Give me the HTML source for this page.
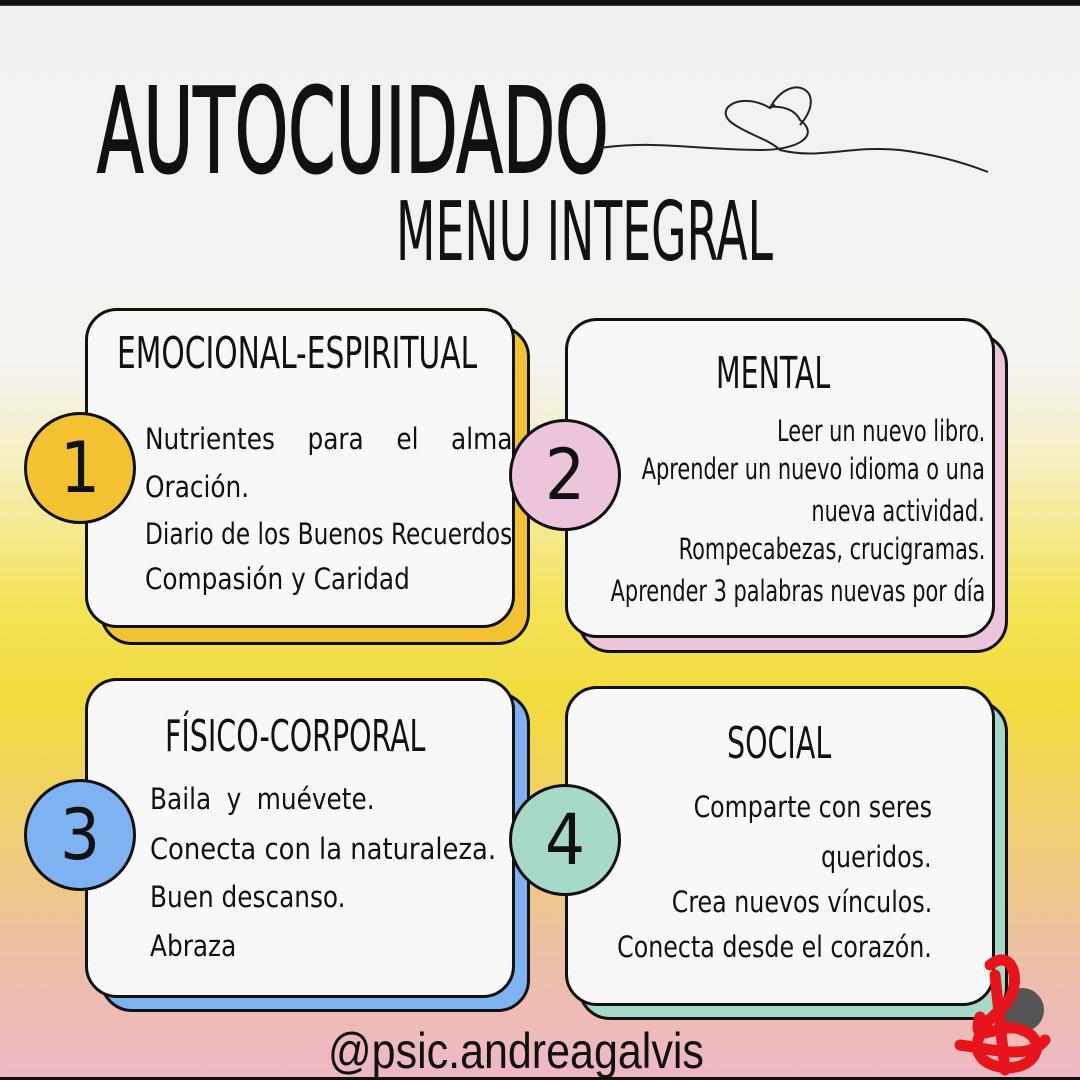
<!DOCTYPE html>
<html><head><meta charset="utf-8"><style>
*{margin:0;padding:0;box-sizing:border-box}
body{width:1080px;height:1077px;overflow:hidden;position:relative;font-family:"DejaVu Sans Condensed","Liberation Sans",sans-serif;
background:linear-gradient(180deg,#111 0,#111 6px,#f1f1f1 6px,#f3f3f0 360px,#f6f0c8 450px,#f3e35a 600px,#f2dc3c 700px,#efd070 820px,#eebfa8 960px,#eeb8c4 1077px);}
.a{position:absolute;white-space:nowrap;color:#111}
.card{position:absolute;border:3px solid #111;border-radius:32px}
.circ{position:absolute;width:112px;height:112px;border:3px solid #111;border-radius:50%;font-size:70px;display:flex;align-items:center;justify-content:center;color:#111;font-family:"DejaVu Sans Condensed",sans-serif;font-weight:300}
.t{font-size:29px;transform-origin:left center;transform:scaleX(.8)}
.w{transform:scaleX(.95)}
.r{transform-origin:right center}
.h{font-size:44px;transform:scaleX(.72);transform-origin:left center}
</style></head><body>
<div class="a" style="left:97px;top:62px;font-size:118px;transform:scaleX(.64);transform-origin:left top;-webkit-text-stroke:2px #111">AUTOCUIDADO</div>
<div class="a" style="left:396px;top:185px;font-size:82px;transform:scaleX(.62);transform-origin:left top">MENU INTEGRAL</div>
<svg class="a" style="left:0;top:0" width="1080" height="300"><path d="M600 148 C650 140,700 150,760 150 C800 150,820 135,800 120 C 790 100,760 110,775 105 L770 108 C740 90,710 110,735 125 C750 135,770 140,780 150 C820 160,850 145,900 150 C940 155,970 165,988 172" fill="none" stroke="#222" stroke-width="2"/><path d="M770 108 C790 70,830 90,800 125" fill="none" stroke="#222" stroke-width="2"/></svg>

<div class="card" style="left:100px;top:325px;width:430px;height:320px;background:#f2c233"></div>
<div class="card" style="left:85px;top:308px;width:430px;height:320px;background:#f8f8f8"></div>
<div class="card" style="left:578px;top:333px;width:430px;height:320px;background:#ecc4dc"></div>
<div class="card" style="left:565px;top:318px;width:430px;height:320px;background:#f8f8f8"></div>
<div class="card" style="left:100px;top:692px;width:430px;height:320px;background:#7fb2f0"></div>
<div class="card" style="left:85px;top:678px;width:430px;height:320px;background:#f8f8f8"></div>
<div class="card" style="left:578px;top:700px;width:430px;height:320px;background:#a6d9c8"></div>
<div class="card" style="left:565px;top:686px;width:430px;height:320px;background:#f8f8f8"></div>

<div class="circ" style="left:24px;top:412px;background:#f2c233">1</div>
<div class="circ" style="left:509px;top:419px;background:#ecc4dc">2</div>
<div class="circ" style="left:24px;top:779px;background:#7fb2f0">3</div>
<div class="circ" style="left:509px;top:784px;background:#a6d9c8">4</div>

<div class="a h" style="left:117px;top:328px;transform:scaleX(.75)">EMOCIONAL-ESPIRITUAL</div>
<div class="a h" style="left:716px;top:348px">MENTAL</div>
<div class="a h" style="left:165px;top:711px">FÍSICO-CORPORAL</div>
<div class="a h" style="left:727px;top:718px">SOCIAL</div>

<div class="a t w" style="left:145px;top:422px;word-spacing:26px">Nutrientes para el alma</div>
<div class="a t w" style="left:145px;top:470px">Oración.</div>
<div class="a t" style="left:145px;top:517px;transform:scaleX(.89)">Diario de los Buenos Recuerdos</div>
<div class="a t w" style="left:145px;top:562px">Compasión y Caridad</div>

<div class="a t r" style="right:95px;top:414px">Leer un nuevo libro.</div>
<div class="a t r" style="right:95px;top:452px">Aprender un nuevo idioma o una</div>
<div class="a t r" style="right:95px;top:494px">nueva actividad.</div>
<div class="a t r" style="right:95px;top:532px">Rompecabezas, crucigramas.</div>
<div class="a t r" style="right:95px;top:574px">Aprender 3 palabras nuevas por día</div>

<div class="a t w" style="left:150px;top:782px;word-spacing:8px">Baila y muévete.</div>
<div class="a t" style="left:150px;top:832px;transform:scaleX(.99)">Conecta con la naturaleza.</div>
<div class="a t w" style="left:150px;top:880px">Buen descanso.</div>
<div class="a t w" style="left:150px;top:929px">Abraza</div>

<div class="a t r" style="right:148px;top:790px;transform:scaleX(.91)">Comparte con seres</div>
<div class="a t r" style="right:148px;top:840px;transform:scaleX(.91)">queridos.</div>
<div class="a t r" style="right:148px;top:885px;transform:scaleX(.91)">Crea nuevos vínculos.</div>
<div class="a t r" style="right:148px;top:930px;transform:scaleX(.91)">Conecta desde el corazón.</div>

<div class="a" style="left:328px;top:1022px;font-family:'Liberation Sans',sans-serif;font-size:50px;transform:scaleX(.86);transform-origin:left top">@psic.andreagalvis</div>
<svg class="a" style="left:930px;top:945px" width="150" height="132"><circle cx="92" cy="65" r="22" fill="#555"/><path d="M60 20 C85 0,95 45,70 65 C45 85,35 115,70 122 C105 128,120 95,92 85 C70 75,40 105,50 72 M65 30 L75 125 M30 100 C65 105,100 115,115 95" fill="none" stroke="#e8141c" stroke-width="11" stroke-linecap="round"/></svg>
</body></html>
